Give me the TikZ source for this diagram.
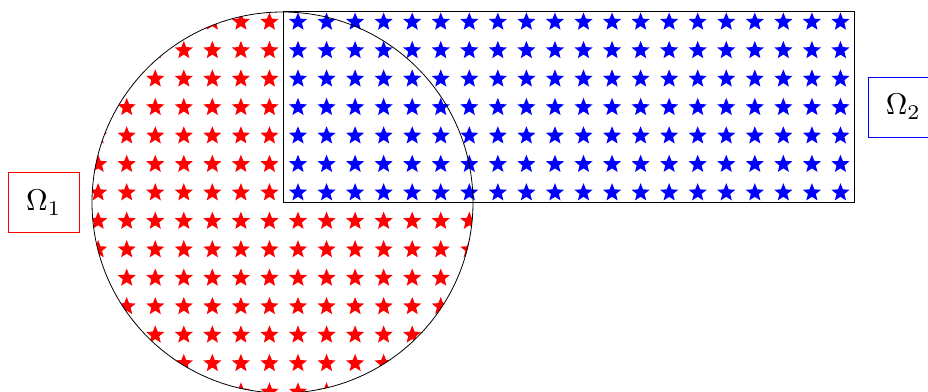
\documentclass[tikz,border=0pt]{standalone}
\usetikzlibrary{shapes.geometric,positioning}
\definecolor{redfill}{HTML}{FF0000}
\definecolor{bluefill}{HTML}{0000FF}
\newcommand{\domainlabel}[1]{\scalebox{3}{$#1$}}
\tikzset{
  domainline/.style={draw=black,line width=.8pt},
  starmark/.style={star,star points=5,star point ratio=2.3,minimum size=19pt,inner sep=0pt,draw=none},
  redstar/.style={starmark,fill=redfill},
  bluestar/.style={starmark,fill=bluefill},
  labelbox/.style={draw,line width=.6pt,minimum width=71pt,minimum height=60pt,inner sep=0pt}
}

\begin{document}
\begin{tikzpicture}[x=1pt,y=1pt]
  \useasboundingbox (-282.5,-188.5) rectangle (645.5,202.5);

  % Red stars: grid points of the disc outside the strip.
  \begin{scope}
    \clip (0,0) circle (190.5);
    \foreach \i in {-7,...,6}
      \foreach \j in {-7,...,6} {
        \pgfmathtruncatemacro\instrip{and(\i>=0,\j>=0)}
        \ifnum\instrip=0
          \node[redstar] (red-\i-\j) at ({15.5+28.55*\i},{9.8+28.45*\j}) {};
        \fi
      }
  \end{scope}

  % Blue stars fill the strip.
  \begin{scope}
    \clip (0,0) rectangle (571.5,190.5);
    \foreach \i in {0,...,19}
      \foreach \j in {0,...,6}
        \node[bluestar] (blue-\i-\j) at ({15.5+28.55*\i},{9.8+28.45*\j}) {};
  \end{scope}

  % Domain outlines.
  \node[domainline,circle,minimum size=381pt,inner sep=0pt] (disc) at (0,0) {};
  \node[domainline,rectangle,minimum width=571.5pt,minimum height=190.5pt,inner sep=0pt,anchor=south west] (strip) at (0,0) {};

  % Labels.
  \node[labelbox,draw=red,left=12pt of disc] (omega1) {\domainlabel{\Omega_1}};
  \node[labelbox,draw=blue,right=12.7pt of strip] (omega2) {\domainlabel{\Omega_2}};
\end{tikzpicture}
\end{document}
